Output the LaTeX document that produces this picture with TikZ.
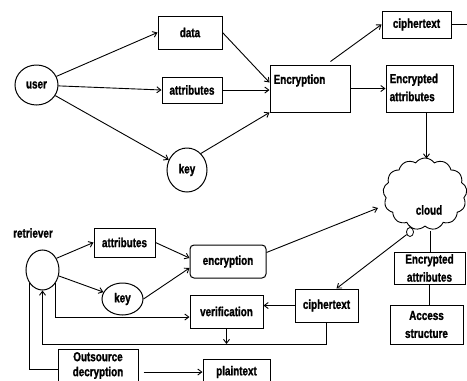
\documentclass[tikz,border=0pt]{standalone}
\usepackage{fontspec}
\setmainfont{Liberation Sans}[FakeStretch=0.76, BoldFeatures={FakeBold=1.2}]
\usetikzlibrary{arrows.meta,shapes.geometric,shapes.symbols,calc}
\begin{document}
\begin{tikzpicture}[x=1pt,y=-1pt,
  every node/.style={font=\fontsize{13}{18}\selectfont\bfseries, inner sep=1pt},
  box/.style={draw, line width=1pt, rectangle, align=center},
  oval/.style={draw, line width=1pt, ellipse},
  conn/.style={line width=0.9pt},
  arr/.style={conn, -{Straight Barb[length=4pt,width=6pt]}}]
\clip (0,0) rectangle (467,381);
\fill[white] (0,0) rectangle (467,381);
% top part
\node[oval, minimum width=43pt, minimum height=40pt] (user) at (36.5,85) {user};
\node[box, minimum width=64pt, minimum height=33pt] (data) at (190,32.5) {data};
\node[box, minimum width=60pt, minimum height=26pt] (attr1) at (192,90) {attributes};
\node[oval, minimum width=40pt, minimum height=44pt] (key1) at (187,170) {key};
\node[box, minimum width=80pt, minimum height=47pt] (enc) at (310,88.5) {};
\node[anchor=west] (enctext) at ($(enc.west)+(3,-8)$) {Encryption};
\node[box, minimum width=69pt, minimum height=27pt] (ct1) at (416.5,24.5) {ciphertext};
\node[box, minimum width=67pt, minimum height=47pt] (ea1) at (419.5,88.5) {};
\node[anchor=west, align=left] (ea1text) at ($(ea1.west)+(3,-1)$) {Encrypted\\attributes};
\coordinate (edge1) at (467,24.5);
\node[cloud, draw, line width=0.9pt, cloud puffs=13, cloud puff arc=110, aspect=1.2, minimum width=84pt, minimum height=72pt] (cloud) at (425,194) {};
\node (cloudtext) at (429,210) {cloud};
\node[oval, line width=0.8pt, minimum width=7pt, minimum height=9pt, inner sep=0pt] (dot) at (410,232) {};
% bottom part
\node (rettext) at (33,233) {retriever};
\node[oval, minimum width=33pt, minimum height=40pt] (ret) at (42.5,270) {};
\node[box, minimum width=61pt, minimum height=29pt] (attr2) at (124.5,242.5) {attributes};
\node[oval, minimum width=41pt, minimum height=32pt] (key2) at (122.5,299) {key};
\node[box, rounded corners=4pt, minimum width=76pt, minimum height=33pt] (enc2) at (228,261.5) {encryption};
\node[box, minimum width=73pt, minimum height=33pt] (verif) at (226.5,311.5) {verification};
\node[box, minimum width=63pt, minimum height=33pt] (ct2) at (326.5,305.5) {ciphertext};
\node[box, minimum width=71pt, minimum height=32pt] (ea2) at (429.5,268) {Encrypted\\attributes};
\node[box, minimum width=73pt, minimum height=39pt] (acc) at (426.5,324.5) {Access\\structure};
\node[box, minimum width=80pt, minimum height=40pt] (out) at (98,369) {};
\node[align=center, font=\fontsize{13}{15}\selectfont\bfseries] (outtext) at (98,365.5) {Outsource\\decryption};
\node[box, minimum width=67pt, minimum height=26pt] (plain) at (236.5,372) {plaintext};
\coordinate (busR) at (326.5,344);
\coordinate (busL) at (42.5,344);
% top connectors
\draw[arr] (user) -- (data.west);
\draw[arr] (user) -- (attr1.west);
\draw[arr] (user) -- (key1);
\draw[arr] (data.east) -- ($(enc.west)+(0,-6)$);
\draw[arr] (attr1.east) -- (attr1.east -| enc.west);
\draw[arr] (key1.50) -- (enc.south west);
\draw[arr] ($(enc.north east)+(-20,-3)$) -- (ct1.west);
\draw[conn] (ct1.east) -- (edge1);
\draw[arr] (enc.east) -- (enc.east -| ea1.west);
\draw[arr] ($(ea1.south)+(7,0)$) -- ($(ea1.south)+(7,46)$);
% bottom connectors
\draw[arr] (ret.40) -- (attr2.west);
\draw[arr] (ret.-20) -- (key2);
\draw[arr] (attr2.east) -- ($(enc2.west)+(0,-3.5)$);
\draw[arr] (key2.east) -- ($(enc2.west)+(0,6.5)$);
\draw[arr] ($(enc2.east)+(0,-9)$) -- ($(cloud.center)+(-47,14)$);
\draw[arr] (dot) -- ($(ct2.north)+(10,0)$);
\draw[conn] ($(cloud.center)+(5,37)$) -- ($(ea2.north)+(0.5,0)$);
\draw[conn] (ea2.south) -- (ea2.south |- acc.north);
\draw[arr] (ct2.west) -- (ct2.west -| verif.east);
\draw[arr] (ct2.south) -- (busR) -- (busL) -- (ret.south);
\draw[arr] (verif.south) -- (verif.south |- busL);
\draw[arr] (ret.-45) |- ($(verif.west)+(0,5.5)$);
\draw[conn] (ret.-135) |- (out.west);
\draw[arr] ($(out.east)+(5,3)$) -- (plain.west);
\end{tikzpicture}
\end{document}
